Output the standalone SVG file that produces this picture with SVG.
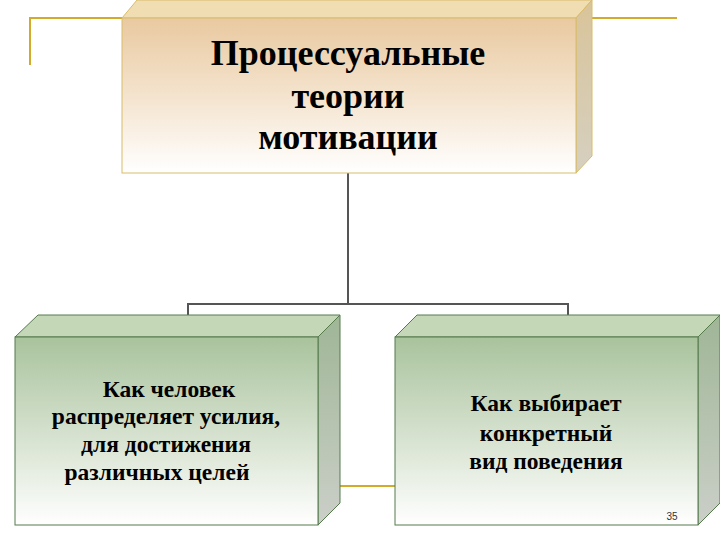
<svg xmlns="http://www.w3.org/2000/svg" width="720" height="540" viewBox="0 0 720 540">
<defs>
<linearGradient id="gTan" x1="0" y1="0" x2="0" y2="1">
<stop offset="0" stop-color="#E9C9A0"/>
<stop offset="0.55" stop-color="#F5E6D2"/>
<stop offset="1" stop-color="#FFFFFF"/>
</linearGradient>
<linearGradient id="gTanSide" x1="0" y1="0" x2="0" y2="1">
<stop offset="0" stop-color="#D9C49A"/>
<stop offset="1" stop-color="#D6D0C0"/>
</linearGradient>
<linearGradient id="gGreen" x1="0" y1="0" x2="0" y2="1">
<stop offset="0" stop-color="#A9C39D"/>
<stop offset="0.6" stop-color="#DCE6D6"/>
<stop offset="1" stop-color="#FFFFFF"/>
</linearGradient>
<linearGradient id="gGreenSide" x1="0" y1="0" x2="0" y2="1">
<stop offset="0" stop-color="#9FB696"/>
<stop offset="1" stop-color="#CBCFC8"/>
</linearGradient>
</defs>
<style>
.t{font-family:'Liberation Serif','Times New Roman',serif;font-weight:bold;fill:#000;text-anchor:middle}
.big{font-size:36px}
.mid{font-size:23.5px}
.conn{stroke:#555;stroke-width:2;fill:none}
.gold{stroke:#D4AA2A;stroke-width:2;fill:none}
.tanEdge{stroke:#D8BC6A;stroke-width:1}
.grEdge{stroke:#557A4C;stroke-width:1}
</style>
<rect width="720" height="540" fill="#FFFFFF"/>
<g id="decor">
<polyline class="gold" points="30,65 30,18 677,18"/>
<line class="gold" x1="318" y1="486" x2="400" y2="486"/>
</g>
<g id="connectors">
<line class="conn" x1="348" y1="173" x2="348" y2="304"/>
<polyline class="conn" points="188,315 188,304 568,304 568,315"/>
</g>
<g id="top">
<polygon points="122,18 137,0 592,0 576,18" fill="#F0DDB2" class="tanEdge"/>
<polygon points="576,18 592,0 592,156 576,173" fill="url(#gTanSide)" class="tanEdge"/>
<rect x="122" y="18" width="454" height="155" fill="url(#gTan)" class="tanEdge"/>
<text class="t big" x="348" y="65">Процессуальные</text>
<text class="t big" x="348" y="108">теории</text>
<text class="t big" x="348" y="149">мотивации</text>
</g>
<g id="left">
<polygon points="15,337 38,315 340,315 318,337" fill="#C4D8B8" class="grEdge"/>
<polygon points="318,337 340,315 340,503 318,525" fill="url(#gGreenSide)" class="grEdge"/>
<rect x="15" y="337" width="303" height="188" fill="url(#gGreen)" class="grEdge"/>
<text class="t mid" x="169" y="397">Как человек</text>
<text class="t mid" x="166" y="424">распределяет усилия,</text>
<text class="t mid" x="166" y="452">для достижения</text>
<text class="t mid" x="157" y="480">различных целей</text>
</g>
<g id="right">
<polygon points="395,337 417,315 720,315 698,337" fill="#C4D8B8" class="grEdge"/>
<polygon points="698,337 720,315 720,503 698,525" fill="url(#gGreenSide)" class="grEdge"/>
<rect x="395" y="337" width="303" height="188" fill="url(#gGreen)" class="grEdge"/>
<text class="t mid" x="546" y="411">Как выбирает</text>
<text class="t mid" x="546" y="441">конкретный</text>
<text class="t mid" x="546" y="469">вид поведения</text>
<text x="672" y="520" style="font-family:'Liberation Sans',Arial,sans-serif;font-size:10px;fill:#333;text-anchor:middle">35</text>
</g>
</svg>
